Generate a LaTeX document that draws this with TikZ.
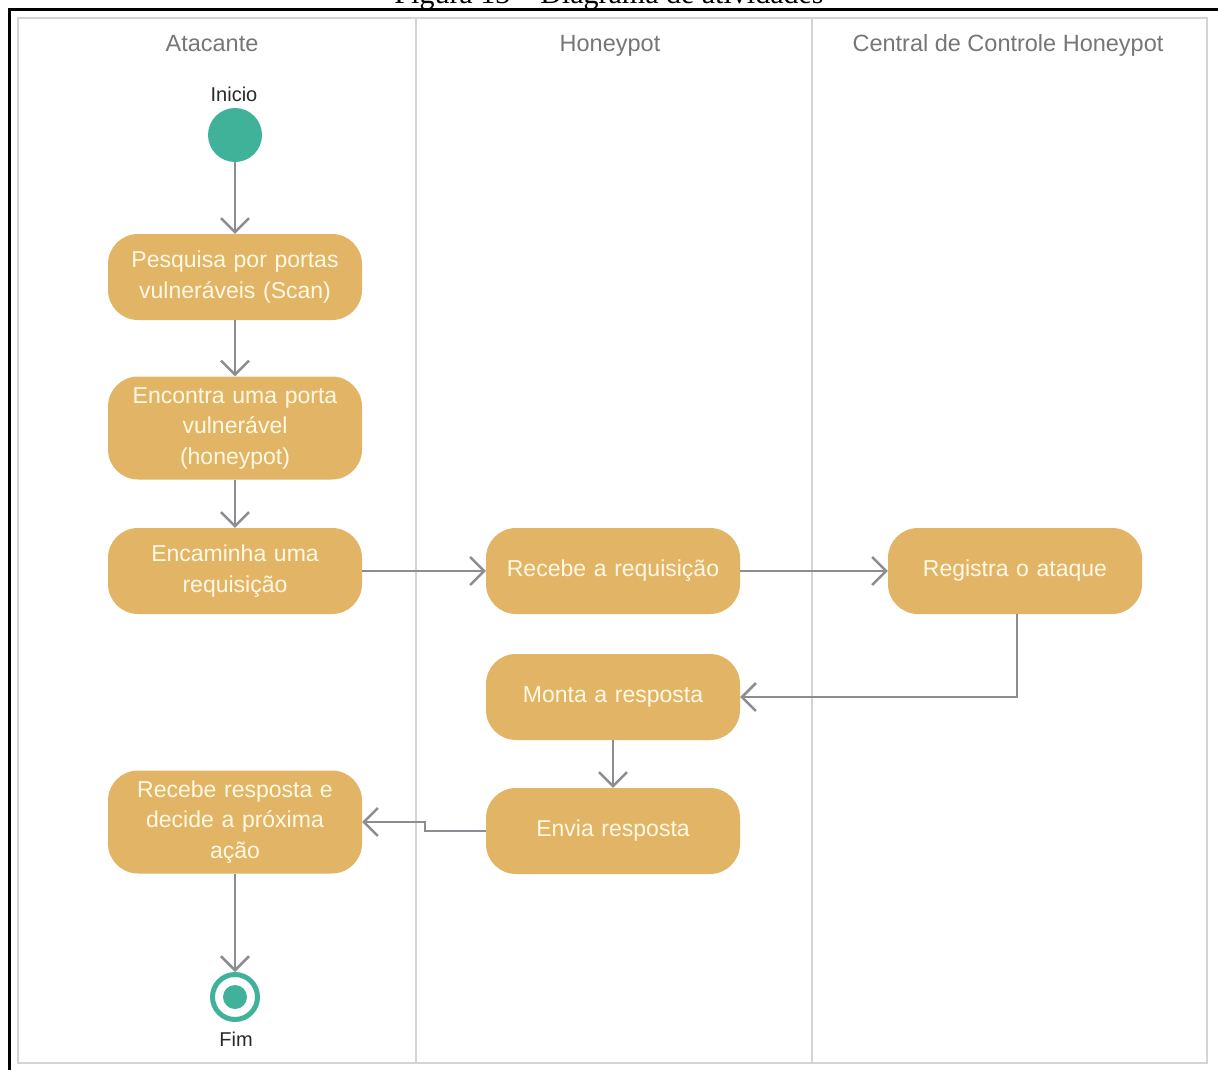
\documentclass[tikz,border=0pt]{standalone}
\usepackage{fontspec}
\setmainfont{Liberation Sans}
\newfontfamily\capfont{Liberation Serif}
\usetikzlibrary{arrows.meta}

\definecolor{actfill}{RGB}{226,181,102}
\definecolor{acttext}{RGB}{255,249,228}
\definecolor{nodeteal}{RGB}{64,178,154}
\definecolor{edgegray}{RGB}{140,141,146}
\definecolor{lanegray}{RGB}{212,212,212}
\definecolor{headgray}{RGB}{118,118,118}
\definecolor{labeltext}{RGB}{40,40,40}

\begin{document}
\begin{tikzpicture}[x=1pt,y=-1pt,
  activity/.style={fill=actfill, rounded corners=30pt, minimum width=254pt,
    text width=244pt, align=center, text=acttext, inner sep=0pt,
    font=\fontsize{23}{30.5}\selectfont},
  flow/.style={draw=edgegray, line width=2.5pt,
    -{Straight Barb[length=14pt, width=28pt, line width=2.5pt]}},
  lane/.style={draw=lanegray, line width=2pt},
  lanehead/.style={anchor=base, text=headgray, font=\fontsize{23.5}{28}\selectfont},
  marklabel/.style={anchor=base, text=labeltext, font=\fontsize{20}{24}\selectfont}]

\useasboundingbox (0,0) rectangle (1218,1070);

% caption of the figure, running off the top of the page
\begin{scope}
  \clip (0,0) rectangle (1218,8);
  \node[anchor=base, font=\capfont\fontsize{30}{36}\selectfont] (caption) at (609,4)
    {Figura 13 – Diagrama de atividades};
\end{scope}

% page frame
\draw[black, line width=2.5pt] (9.5,1070) -- (9.5,9.5) -- (1218,9.5);

% swimlanes
\draw[lane] (18,18) rectangle (1207,1063);
\draw[lane] (416,18) -- (416,1063);
\draw[lane] (812,18) -- (812,1063);
\node[lanehead] (laneA) at (212,52) {Atacante};
\node[lanehead] (laneB) at (610,52) {Honeypot};
\node[lanehead] (laneC) at (1008,52) {Central de Controle Honeypot};

% initial node
\node[circle, fill=nodeteal, minimum size=54pt, inner sep=0pt] (start) at (235,135) {};
\node[marklabel] (startlbl) at (234,102) {Inicio};

% activities
\node[activity, minimum height=86pt] (scan) at (235,277)
  {Pesquisa por portas\\vulneráveis (Scan)};
\node[activity, minimum height=103pt] (found) at (235,428)
  {Encontra uma porta\\vulnerável\\(honeypot)};
\node[activity, minimum height=86pt] (fwd) at (235,571)
  {Encaminha uma\\requisição};
\node[activity, minimum height=86pt] (recv) at (613,571)
  {Recebe a requisição};
\node[activity, minimum height=86pt] (log) at (1015,571)
  {Registra o ataque};
\node[activity, minimum height=86pt] (build) at (613,697)
  {Monta a resposta};
\node[activity, minimum height=86pt] (send) at (613,831)
  {Envia resposta};
\node[activity, minimum height=103pt] (decide) at (235,822)
  {Recebe resposta e\\decide a próxima\\ação};

% final node
\node[circle, draw=nodeteal, line width=5pt, fill=white, minimum size=45pt,
  inner sep=0pt] (finish) at (235,997) {};
\fill[nodeteal] (finish.center) circle (12pt);
\node[marklabel] (finishlbl) at (236,1046) {Fim};

% control flow
\draw[flow] (start) -- (scan);
\draw[flow] (scan) -- (found);
\draw[flow] (found) -- (fwd);
\draw[flow] (fwd) -- (recv);
\draw[flow] (recv) -- (log);
\draw[flow] ([xshift=2pt]log.south) |- (build.east);
\draw[flow] (build) -- (send);
\draw[flow] (send.west) -- ([xshift=-61pt]send.west) |- (decide.east);
\draw[flow] (decide) -- (finish);

\end{tikzpicture}
\end{document}
